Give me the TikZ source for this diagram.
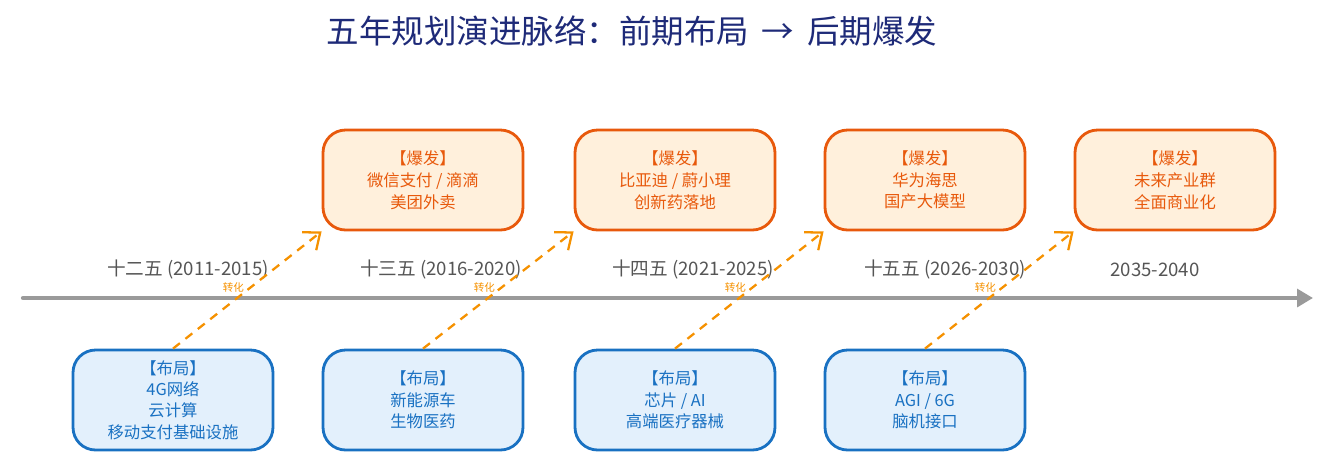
\documentclass[tikz,border=0pt]{standalone}
\usepackage{fontspec}
\setmainfont{Noto Sans CJK SC}
\usetikzlibrary{arrows.meta}
\definecolor{boomline}{HTML}{E8590C}
\definecolor{boomfill}{HTML}{FFF0DC}
\definecolor{layline}{HTML}{1971C2}
\definecolor{layfill}{HTML}{E3F0FC}
\definecolor{turnc}{HTML}{F59100}
\definecolor{titlec}{HTML}{1E2A78}
\definecolor{axisc}{HTML}{9A9A9A}
\definecolor{periodc}{HTML}{555555}
\tikzset{
  boom/.style={draw=boomline, fill=boomfill, text=boomline, line width=1.6pt, rounded corners=0.45cm,
    minimum width=4cm, minimum height=2cm, align=center, font=\fontsize{9.3}{12.4}\selectfont},
  lay/.style={draw=layline, fill=layfill, text=layline, line width=1.6pt, rounded corners=0.45cm,
    minimum width=4cm, minimum height=2cm, align=center, font=\fontsize{9.3}{12.2}\selectfont},
  period/.style={text=periodc, font=\fontsize{10.6}{12}\selectfont},
  turn/.style={draw=turnc, line width=1.3pt, dash pattern=on 5pt off 4pt, -{Straight Barb[length=8pt,width=13pt]}},
  turnlabel/.style={text=turnc, font=\fontsize{6}{7}\selectfont, inner sep=1pt}
}
\begin{document}
\begin{tikzpicture}[x=0.02cm, y=0.02cm]
\useasboundingbox (0,0) rectangle (1326,-468);
\node[text=titlec, font=\fontsize{18.5}{22}\selectfont] (title) at (632,-31) {五年规划演进脉络：前期布局 \,→\, 后期爆发};
\coordinate (axs) at (23,-298);
\coordinate (axe) at (1313,-298);
\draw [axisc, line width=2.4pt, line cap=round, -{Triangle[length=9pt,width=10pt]}] (axs) -- (axe);
\node[period] (p1) at (188,-270) {十二五 (2011-2015)};
\node[period] (p2) at (441,-270) {十三五 (2016-2020)};
\node[period] (p3) at (693,-270) {十四五 (2021-2025)};
\node[period] (p4) at (945,-270) {十五五 (2026-2030)};
\node[period] (p5) at (1155,-270) {2035-2040};
\node[boom] (boom1) at (423,-180) {【爆发】\\微信支付 / 滴滴\\美团外卖};
\node[boom] (boom2) at (675,-180) {【爆发】\\比亚迪 / 蔚小理\\创新药落地};
\node[boom] (boom3) at (925,-180) {【爆发】\\华为海思\\国产大模型};
\node[boom] (boom4) at (1175,-180) {【爆发】\\未来产业群\\全面商业化};
\node[lay] (lay1) at (173,-400) {【布局】\\4G网络\\云计算\\移动支付基础设施};
\node[lay] (lay2) at (423,-400) {【布局】\\新能源车\\生物医药};
\node[lay] (lay3) at (675,-400) {【布局】\\芯片 / AI\\高端医疗器械};
\node[lay] (lay4) at (925,-400) {【布局】\\AGI / 6G\\脑机接口};
\draw [turn] (lay1.north) -- node[turnlabel, pos=0.52, left=2pt] (t1) {转化} (boom1.south west);
\draw [turn] (lay2.north) -- node[turnlabel, pos=0.52, left=2pt] (t2) {转化} (boom2.south west);
\draw [turn] (lay3.north) -- node[turnlabel, pos=0.52, left=2pt] (t3) {转化} (boom3.south west);
\draw [turn] (lay4.north) -- node[turnlabel, pos=0.52, left=2pt] (t4) {转化} (boom4.south west);
\end{tikzpicture}
\end{document}
